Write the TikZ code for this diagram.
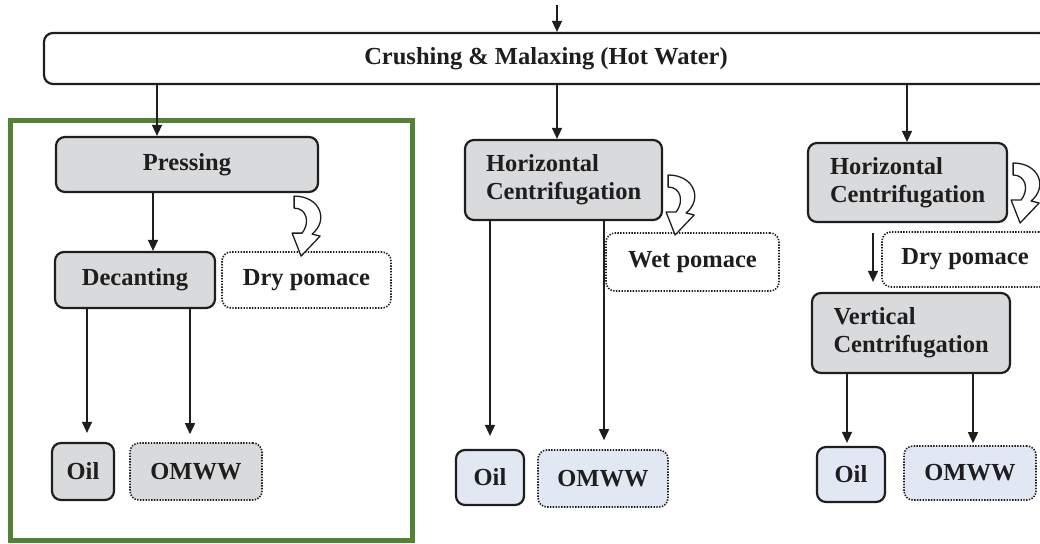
\documentclass[tikz,border=0pt]{standalone}
\usepackage{fontspec}
\setmainfont{Liberation Serif}
\usetikzlibrary{arrows.meta,calc}
\definecolor{boxgray}{RGB}{217,218,220}
\definecolor{boxblue}{RGB}{226,232,243}
\definecolor{framegreen}{RGB}{84,130,53}
\definecolor{ink}{RGB}{30,30,30}
\tikzset{
  procbox/.style={draw=ink, line width=2.2pt, rounded corners=9pt, fill=boxgray, inner sep=0pt, text=ink},
  twoline/.style={procbox, text width=155pt, align=left},
  dotbox/.style={draw=ink, line width=1.6pt, dash pattern=on 1.4pt off 1.4pt, rounded corners=9pt, inner sep=0pt, text=ink},
  arr/.style={draw=ink, line width=1.5pt, -{Triangle[length=11pt,width=10pt]}},
  curlarrow/.pic={\draw[ink, line width=1.3pt, fill=white, line join=round]
     (0,0) .. controls (26,0) and (35,24) .. (18,38) -- (26,40) -- (7,60) -- (-2,37) -- (8,37)
     .. controls (16,27) and (13,12) .. (0,12) -- cycle;}
}
\begin{document}
\begin{tikzpicture}[x=1pt, y=-1pt, font=\fontsize{24.5}{28}\selectfont\bfseries]
\useasboundingbox (0,0) rectangle (1040,543);
\fill[white] (0,0) rectangle (1040,543);
\begin{scope}
\clip (0,0) rectangle (1040,543);
% frame
\draw[framegreen, line width=5pt] (10,120) rectangle (412,540);
% top
\coordinate (in) at (557,5);
\node[procbox, fill=white, minimum width=1004pt, minimum height=51pt] (crush) at (546,58.5) {Crushing \& Malaxing (Hot Water)};
\draw[arr] (in) -- (in |- crush.north);
\end{scope}
% left column
\node[procbox, minimum width=262pt, minimum height=55pt] (press) at (187,164.5) {Pressing};
\node[procbox, minimum width=160pt, minimum height=56pt] (decant) at (135,280) {Decanting};
\node[dotbox, minimum width=169pt, minimum height=56pt] (dry1) at (306.5,280) {Dry pomace};
\node[procbox, minimum width=62pt, minimum height=57pt] (oil1) at (83,471.5) {Oil};
\node[dotbox, fill=boxgray, minimum width=132pt, minimum height=57pt] (omww1) at (196,471.5) {OMWW};
% middle column
\node[twoline, minimum width=197pt, minimum height=80pt] (hc1) at (563.5,180) {Horizontal\\Centrifugation};
\node[dotbox, minimum width=173pt, minimum height=58pt] (wet) at (692.5,262) {Wet pomace};
\node[procbox, fill=boxblue, minimum width=68pt, minimum height=55pt] (oil2) at (490,477.5) {Oil};
\node[dotbox, fill=boxblue, minimum width=130pt, minimum height=57pt] (omww2) at (603,478.5) {OMWW};
% right column
\node[twoline, minimum width=199pt, minimum height=79pt] (hc2) at (907.5,182.5) {Horizontal\\Centrifugation};
\begin{scope}
\clip (0,0) rectangle (1040,543);
\node[dotbox, minimum width=166pt, minimum height=55pt] (dry2) at (965,259.5) {Dry pomace};
\end{scope}
\node[twoline, minimum width=198pt, minimum height=80pt] (vc) at (911,333) {Vertical\\Centrifugation};
\node[procbox, fill=boxblue, minimum width=68pt, minimum height=55pt] (oil3) at (851,474.5) {Oil};
\node[dotbox, fill=boxblue, minimum width=132pt, minimum height=54pt] (omww3) at (970,473) {OMWW};
% connectors
\draw[arr] ([xshift=-30pt]press.north |- crush.south) -- ([xshift=-30pt]press.north);
\draw[arr] ([xshift=-6.5pt]hc1.north |- crush.south) -- ([xshift=-6.5pt]hc1.north);
\draw[arr] ([xshift=-0.5pt]hc2.north |- crush.south) -- ([xshift=-0.5pt]hc2.north);
\draw[arr] ([xshift=18pt]decant.north |- press.south) -- ([xshift=18pt]decant.north);
\draw[arr, shorten >=9pt] ([xshift=4pt]oil1.north |- decant.south) -- ([xshift=4pt]oil1.north);
\draw[arr, shorten >=8pt] ([xshift=-6pt]omww1.north |- decant.south) -- ([xshift=-6pt]omww1.north);
\draw[arr, shorten >=13pt] (oil2.north |- hc1.south) -- (oil2.north);
\draw[arr, shorten >=9pt] ([xshift=1pt]omww2.north |- hc1.south) -- ([xshift=1pt]omww2.north);
\draw[arr, shorten <=10pt, shorten >=10pt] ([xshift=-38pt]vc.north |- hc2.south) -- ([xshift=-38pt]vc.north);
\draw[arr, shorten >=3pt] ([xshift=-4pt]oil3.north |- vc.south) -- ([xshift=-4pt]oil3.north);
\draw[arr, shorten >=2pt] ([xshift=3pt]omww3.north |- vc.south) -- ([xshift=3pt]omww3.north);
% hollow curved arrows
\pic at ([xshift=-25pt,yshift=-3pt]press.south east) {curlarrow};
\pic at ([xshift=5pt,yshift=5pt]hc1.east) {curlarrow};
\pic at ([xshift=5pt,yshift=19.5pt]hc2.east) {curlarrow};
\end{tikzpicture}
\end{document}
